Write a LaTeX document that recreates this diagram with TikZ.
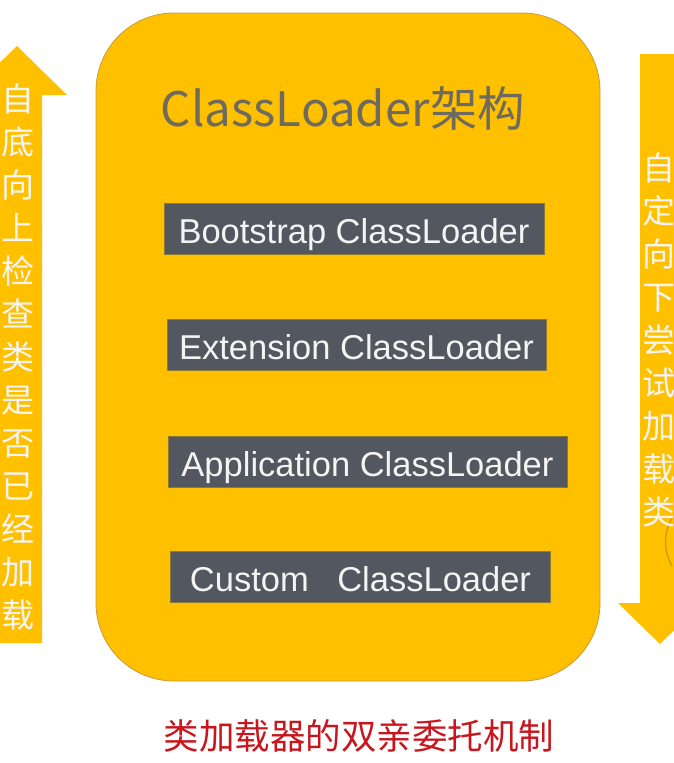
\documentclass[tikz,border=0pt]{standalone}
\usepackage{fontspec}
\setmainfont{Liberation Sans}
\newfontfamily\cjk{Noto Sans CJK SC}
\usetikzlibrary{positioning}
\definecolor{amber}{HTML}{FFC000}
\definecolor{amberedge}{HTML}{C9993A}
\definecolor{slate}{HTML}{525760}
\definecolor{slateedge}{HTML}{8A7A3A}
\definecolor{titlegray}{HTML}{6E6B5E}
\definecolor{softwhite}{HTML}{F4F4F2}
\definecolor{captionred}{HTML}{C8161E}

\begin{document}
\begin{tikzpicture}[
  x=1pt,y=-1pt,
  loader/.style={draw=slateedge,line width=0.6pt,fill=slate,text=softwhite,
    font=\fontsize{34.5}{40}\selectfont,minimum height=51pt,inner sep=0pt,
    text height=29pt,text depth=0pt},
  flowtext/.style={text=softwhite,align=center,inner sep=0pt,
    font=\cjk\fontsize{33}{43}\selectfont},
  bigarrow/.style={fill=amber,draw=none}
]
\useasboundingbox (0,0) rectangle (674,763);
% outer panel
\draw[amberedge,fill=amber,line width=0.8pt,rounded corners=78pt]
  (96,13) rectangle (600,681);
\node[text=titlegray,font=\cjk\fontsize{47.5}{52}\selectfont] (title) at (343,108)
  {ClassLoader架构};
% loaders
\node[loader,minimum width=380pt] (boot) at (354,228.5) {Bootstrap ClassLoader};
\node[loader,minimum width=379pt] (ext) at (356.5,345) {Extension ClassLoader};
\node[loader,minimum width=399pt] (app) at (367.5,461.5) {Application ClassLoader};
\node[loader,minimum width=380pt] (custom) at (360.5,576.5) {Custom\hspace{0.55em} ClassLoader};
% left arrow: bottom-up check
\fill[bigarrow] (-8,643) -- (-8,95) -- (-33,95) -- (17,46) -- (67,95) -- (42,95)
  -- (42,643) -- cycle;
\node[flowtext] (upward) at (18,357)
  {自\\底\\向\\上\\检\\查\\类\\是\\否\\已\\经\\加\\载};
% right arrow: top-down loading
\fill[bigarrow] (640,54) -- (700,54) -- (700,603) -- (702,603) -- (660,644)
  -- (618,603) -- (640,603) -- cycle;
\draw[amber!80!black,line width=1.2pt] (672,566) arc[start angle=150,end angle=210,radius=48];
\node[flowtext] (downward) at (659,340)
  {自\\定\\向\\下\\尝\\试\\加\\载\\类};
% caption
\node[text=captionred,font=\cjk\fontsize{35.5}{40}\selectfont] (caption) at (359,736)
  {类加载器的双亲委托机制};
\end{tikzpicture}
\end{document}
